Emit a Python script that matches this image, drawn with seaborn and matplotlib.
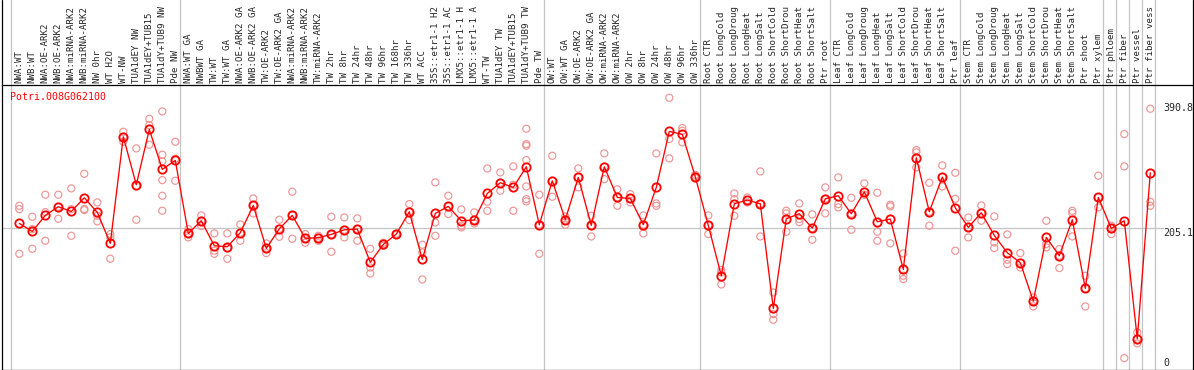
import matplotlib
matplotlib.use('Agg')
from matplotlib import pyplot as plt
from matplotlib.lines import Line2D
import pandas as pd
import numpy as np
import seaborn as sns

sns.set_style('white')
plt.rcParams['font.family'] = ['DejaVu Sans Mono', 'DejaVu Sans']

#################################################################################
# data (labels as far as they show in the strip)

gene = 'Potri.008G062100'

labels = ['NWA:WT', 'NWB:WT', 'NWA:OE-ARK2', 'NWB:OE-ARK2', 'NWA:miRNA-ARK2',
          'NWB:miRNA-ARK2', 'NW 0hr', 'WT H2O', 'WT-NW', 'TUA1dEY NW',
          'TUA1dEY+TUB15', 'TUA1dY+TUB9 NW', 'Pde NW', 'NWA:WT GA', 'NWBWT GA',
          'TW:WT', 'TW:WT GA', 'NWA:OE-ARK2 GA', 'NWB:OE-ARK2 GA', 'TW:OE-ARK2',
          'TW:OE-ARK2 GA', 'NWA:miRNA-ARK2', 'NWB:miRNA-ARK2', 'TW:miRNA-ARK2', 'TW 2hr',
          'TW 8hr', 'TW 24hr', 'TW 48hr', 'TW 96hr', 'TW 168hr',
          'TW 336hr', 'WT ACC', '35S::etr1-1 H2', '35S::etr1-1 AC', 'LMX5::etr1-1 H',
          'LMX5::etr1-1 A', 'WT-TW', 'TUA1dEY TW', 'TUA1dEY+TUB15', 'TUA1dY+TUB9 TW',
          'Pde TW', 'OW:WT', 'OW:WT GA', 'OW:OE-ARK2', 'OW:OE-ARK2 GA',
          'OW:miRNA-ARK2', 'OW:miRNA-ARK2', 'OW 2hr', 'OW 8hr', 'OW 24hr',
          'OW 48hr', 'OW 96hr', 'OW 336hr', 'Root CTR', 'Root LongCold',
          'Root LongDroug', 'Root LongHeat', 'Root LongSalt', 'Root ShortCold', 'Root ShortDrou',
          'Root ShortHeat', 'Root ShortSalt', 'Ptr root', 'Leaf CTR', 'Leaf LongCold',
          'Leaf LongDroug', 'Leaf LongHeat', 'Leaf LongSalt', 'Leaf ShortCold', 'Leaf ShortDrou',
          'Leaf ShortHeat', 'Leaf ShortSalt', 'Ptr leaf', 'Stem CTR', 'Stem LongCold',
          'Stem LongDroug', 'Stem LongHeat', 'Stem LongSalt', 'Stem ShortCold', 'Stem ShortDrou',
          'Stem ShortHeat', 'Stem ShortSalt', 'Ptr shoot', 'Ptr xylem', 'Ptr phloem',
          'Ptr fiber', 'Ptr vessel', 'Ptr fiber vess']

means = [211.5, 199.7, 223.4, 236.3, 229.3, 249.6, 227.9, 181.9, 340.1, 268.9,
         351.0, 291.7, 305.0, 196.7, 215.5, 178.4, 176.9, 197.7, 238.2, 174.4,
         203.6, 223.4, 189.3, 190.3, 195.2, 202.1, 203.1, 153.7, 180.4, 195.7,
         228.8, 158.1, 226.4, 236.8, 215.5, 216.5, 256.0, 271.9, 265.0, 295.6,
         209.6, 274.8, 217.0, 279.8, 208.6, 295.6, 250.1, 248.6, 209.6, 265.0,
         348.0, 343.6, 280.8, 208.6, 133.9, 240.7, 246.2, 240.7, 85.4, 218.5,
         225.9, 204.6, 248.1, 252.6, 225.9, 258.5, 214.0, 218.0, 143.3, 309.0,
         228.8, 280.3, 234.8, 205.6, 227.4, 193.7, 168.0, 153.2, 96.3, 190.8,
         163.6, 217.0, 115.1, 250.1, 204.1, 215.5, 40.4, 286.7]

replicates = [
    [237.7, 232.8, 166.5], [221.4, 203.1, 173.9], [254.1, 228.3, 185.8], [254.1, 236.3, 218.5],
    [263.5, 232.8, 193.2], [285.2, 232.8, 231.3], [242.7, 222.9, 214.5], [195.7, 190.8, 159.1],
    [347.5, 340.1, 332.7], [322.8, 266.9, 217.0], [366.8, 357.4, 328.3],
    [377.7, 313.4, 303.5, 275.8, 252.6, 230.3], [332.7, 307.5, 274.8], [203.1, 196.7, 190.8],
    [223.4, 215.5, 207.6], [196.7, 171.0, 166.5], [196.7, 174.9, 159.1], [210.0, 197.7, 185.8],
    [248.6, 238.2, 226.4], [181.9, 174.4, 167.5], [217.0, 203.6, 191.7], [258.5, 223.4, 188.8],
    [195.7, 189.3, 182.8], [193.2, 190.3, 185.8], [221.4, 195.2, 169.5], [220.4, 202.1, 190.8],
    [219.0, 203.1, 185.8], [173.9, 146.2, 137.3], [182.8, 180.4, 178.4], [196.2, 195.7, 195.2],
    [240.2, 228.8, 216.5], [179.9, 168.5, 128.4], [272.4, 213.0, 193.2], [252.6, 236.8, 225.4],
    [232.3, 208.1, 205.6], [227.9, 216.5, 211.5], [293.1, 243.7, 230.3], [287.2, 271.9, 260.0],
    [296.1, 268.9, 230.3], [352.0, 329.2, 326.8, 305.5, 266.4, 247.6, 244.2],
    [254.1, 209.6, 166.5], [311.9, 274.8, 251.1], [221.9, 217.0, 209.6], [293.1, 279.8, 265.0],
    [222.9, 208.6, 192.2], [315.4, 295.6, 277.3], [262.0, 250.1, 237.7], [255.1, 248.6, 242.7],
    [223.4, 209.6, 196.7], [315.4, 241.2, 237.7], [398.0, 336.7, 308.0], [353.0, 349.0, 331.7],
    [283.7, 280.8, 278.8], [223.4, 208.6, 195.7], [142.3, 138.8, 121.0], [256.0, 247.6, 222.9],
    [250.1, 246.2, 242.7], [288.7, 240.7, 192.2], [109.1, 77.0, 68.6], [230.3, 226.4, 199.2],
    [241.2, 218.0, 213.5], [224.9, 204.6, 187.3], [265.0, 248.1, 226.4], [279.8, 240.2, 235.3],
    [249.6, 225.9, 202.1], [270.9, 258.5, 254.1], [257.0, 199.2, 185.8], [239.2, 236.8, 181.9],
    [167.0, 133.9, 128.9], [320.3, 316.9, 294.6], [271.9, 228.8, 208.1], [297.6, 280.3, 266.4],
    [286.7, 248.1, 171.0], [220.4, 205.6, 190.8], [238.2, 227.4, 215.5], [221.9, 183.3, 174.9],
    [195.2, 157.6, 151.2], [167.5, 153.2, 146.2], [101.7, 96.3, 88.4], [215.5, 180.9, 175.9],
    [173.4, 163.6, 145.3], [230.3, 226.9, 192.2], [133.9, 115.1, 88.4], [282.3, 250.1, 235.3],
    [208.1, 204.1, 195.7], [344.1, 296.1, 11.7], [49.8, 40.4, 33.5], [381.7, 243.7, 237.7]]

# first column of every sample group (a gray rule is drawn before each)
group_starts = [1, 14, 42, 54, 64, 74, 85, 86, 87, 88, 89]
ref_value = 205.1
scale_labels = [390.8, 205.1, 0]

#################################################################################
# long form tables

pos = np.arange(1, len(means) + 1)
mean_df = pd.DataFrame({'pos': pos, 'value': means})
rep_df = pd.DataFrame([(i + 1, v) for i, r in enumerate(replicates) for v in r],
                      columns=['pos', 'value'])

#################################################################################
# plot

W, H = 1194, 370
fig = plt.figure(figsize=(W / 100, H / 100), dpi=100)
top_px = 85
ax = fig.add_axes([1.5 / W, 0.5 / H, 1191 / W, (H - 0.5 - top_px) / H])

ax.set_xlim(-0.369, 91.246)
ax.set_ylim(-5.2, 416.9)

# gray rules
for g in group_starts:
    ax.axvline(g - 0.65, ymin=0, ymax=1.4, color='#c4c4c4', lw=0.9,
               clip_on=False, zorder=0)
ax.axhline(ref_value, xmin=0, xmax=0.975, color='#c4c4c4', lw=0.9, zorder=0)

sns.scatterplot(data=rep_df, x='pos', y='value', ax=ax, marker='o', s=26,
                facecolors='none', edgecolor='#ee9494', linewidth=0.85, zorder=2)
sns.lineplot(data=mean_df, x='pos', y='value', ax=ax, estimator=None,
             color='#ff0000', lw=0.95, marker='o', markersize=6,
             markerfacecolor='none', markeredgecolor='#ff0000',
             markeredgewidth=1.3, zorder=3)

ax.set_xticks(pos)
ax.set_xticklabels(labels)
ax.xaxis.tick_top()
ax.tick_params(axis='x', length=0, pad=1.2, labelsize=6.6, labelrotation=90)
ax.set_yticks([])
ax.set_xlabel('')
ax.set_ylabel('')

for s in ax.spines.values():
    s.set_color('black')
    s.set_linewidth(0.9)

# border round the label strip
y0 = 1 - top_px / H
for xf in [1.5 / W, 1192.5 / W]:
    fig.add_artist(Line2D([xf, xf], [y0, 1], transform=fig.transFigure,
                          color='black', lw=0.9))

ax.text(0.0072, 0.9764, gene, transform=ax.transAxes, color='#ff0000',
        fontsize=7.1, ha='left', va='top')

for v in scale_labels:
    ax.text(89.0, v, f'{v:g}', fontsize=7.2, ha='left',
            va='baseline' if v == 0 else 'top')

plt.savefig('out.png', dpi=100)
